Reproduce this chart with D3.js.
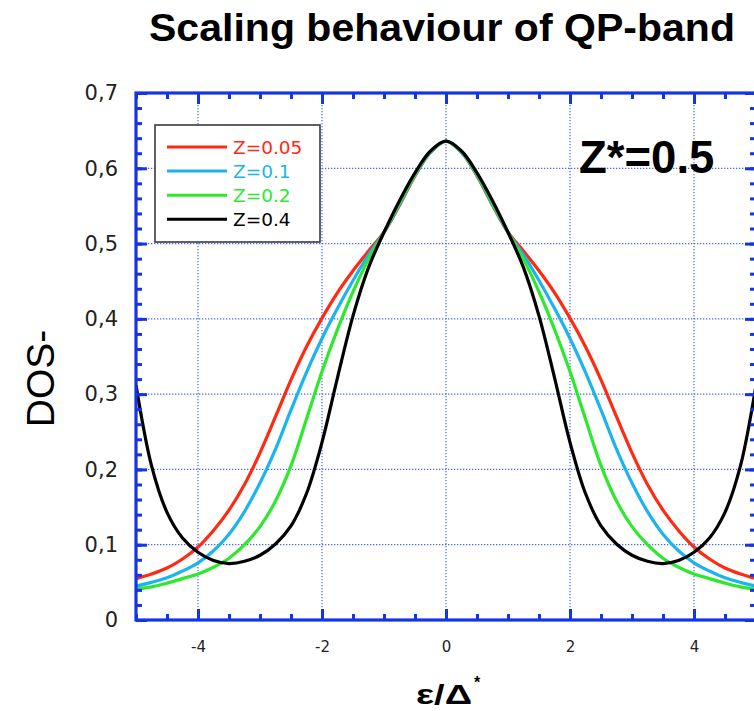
<!DOCTYPE html>
<html>
<head>
<meta charset="utf-8">
<script src="https://cdn.jsdelivr.net/npm/d3@7"></script>
<style>
  html, body { margin: 0; padding: 0; background: #fff; }
  svg { display: block; }
</style>
</head>
<body>
<svg id="chart" width="754" height="711"></svg>
<script>
// Energy grid (in units of Δ*)
const energies = [-5, -4.75, -4.5, -4.25, -4, -3.75, -3.5, -3.25, -3, -2.75, -2.5, -2.25, -2, -1.75, -1.5, -1.25, -1, -0.75, -0.5, -0.25,
                  0, 0.25, 0.5, 0.75, 1, 1.25, 1.5, 1.75, 2, 2.25, 2.5, 2.75, 3, 3.25, 3.5, 3.75, 4, 4.25, 4.5, 4.75, 5];

// DOS- for each Z
const dosZ005 = [0.055, 0.061, 0.069, 0.081, 0.097, 0.119, 0.146, 0.180, 0.222, 0.270, 0.319, 0.363, 0.401, 0.435, 0.464, 0.490, 0.515, 0.551, 0.590, 0.621,
                 0.636, 0.621, 0.590, 0.551, 0.515, 0.490, 0.464, 0.435, 0.401, 0.363, 0.319, 0.270, 0.222, 0.180, 0.146, 0.119, 0.097, 0.081, 0.069, 0.061, 0.055];
const dosZ01  = [0.045, 0.050, 0.056, 0.065, 0.076, 0.092, 0.114, 0.144, 0.182, 0.227, 0.279, 0.329, 0.374, 0.414, 0.451, 0.485, 0.515, 0.552, 0.591, 0.621,
                 0.636, 0.621, 0.591, 0.552, 0.515, 0.485, 0.451, 0.414, 0.374, 0.329, 0.279, 0.227, 0.182, 0.144, 0.114, 0.092, 0.076, 0.065, 0.056, 0.050, 0.045];
const dosZ02  = [0.041, 0.044, 0.049, 0.055, 0.061, 0.070, 0.082, 0.100, 0.124, 0.158, 0.205, 0.267, 0.330, 0.386, 0.436, 0.479, 0.515, 0.554, 0.592, 0.622,
                 0.636, 0.622, 0.592, 0.554, 0.515, 0.479, 0.436, 0.386, 0.330, 0.267, 0.205, 0.158, 0.124, 0.100, 0.082, 0.070, 0.061, 0.055, 0.049, 0.044, 0.041];
const dosZ04  = [0.312, 0.205, 0.143, 0.109, 0.090, 0.079, 0.075, 0.078, 0.086, 0.101, 0.125, 0.168, 0.236, 0.322, 0.404, 0.468, 0.515, 0.557, 0.594, 0.623,
                 0.636, 0.623, 0.594, 0.557, 0.515, 0.468, 0.404, 0.322, 0.236, 0.168, 0.125, 0.101, 0.086, 0.078, 0.075, 0.079, 0.090, 0.109, 0.143, 0.205, 0.312];

const seriesNames  = ["Z=0.05", "Z=0.1", "Z=0.2", "Z=0.4"];
const seriesColors = ["#ff2a12", "#1cb4ec", "#2ee82e", "#000000"];
const seriesValues = [dosZ005, dosZ01, dosZ02, dosZ04];

const xTickValues = [-4, -2, 0, 2, 4];
const xTickLabels = ["-4", "-2", "0", "2", "4"];
const yTickValues = [0, 0.1, 0.2, 0.3, 0.4, 0.5, 0.6, 0.7];
const yTickLabels = ["0", "0,1", "0,2", "0,3", "0,4", "0,5", "0,6", "0,7"];

const titleText = "Scaling behaviour of QP-band";
const annotation = "Z*=0.5";

// ---- layout ----
const svg = d3.select("#chart");
const plot = { left: 136, right: 756, top: 93, bottom: 620 };
const x = d3.scaleLinear().domain([-5, 5]).range([plot.left, plot.right]);
const y = d3.scaleLinear().domain([0, 0.7]).range([plot.bottom, plot.top]);

const axisBlue = "#1534e4";
const gridBlue = "#4766f2";

svg.append("defs").append("clipPath").attr("id", "plotClip")
  .append("rect")
  .attr("x", plot.left).attr("y", plot.top)
  .attr("width", plot.right - plot.left).attr("height", plot.bottom - plot.top);

// dotted grid
const grid = svg.append("g").attr("stroke", gridBlue).attr("stroke-width", 1.2)
  .attr("stroke-dasharray", "1.3,1.7");
grid.selectAll("line.gx").data(xTickValues).join("line").attr("class", "gx")
  .attr("x1", d => x(d)).attr("x2", d => x(d))
  .attr("y1", plot.top).attr("y2", plot.bottom);
grid.selectAll("line.gy").data(yTickValues.filter(v => v > 0 && v < 0.7)).join("line").attr("class", "gy")
  .attr("y1", d => y(d)).attr("y2", d => y(d))
  .attr("x1", plot.left).attr("x2", plot.right);

// curves
const line = d3.line()
  .x((d, i) => x(energies[i]))
  .y(d => y(d))
  .curve(d3.curveCatmullRom.alpha(0.5));

svg.append("g").attr("clip-path", "url(#plotClip)")
  .selectAll("path").data(seriesValues).join("path")
  .attr("d", d => line(d))
  .attr("fill", "none")
  .attr("stroke", (d, i) => seriesColors[i])
  .attr("stroke-width", 3.2)
  .attr("stroke-linejoin", "round");

// axes: inward ticks on all four sides
function styleAxis(g) {
  g.select(".domain").remove();
  g.selectAll(".tick line").attr("stroke", axisBlue).attr("stroke-width", 3);
}
const majorLen = 11, minorLen = 6;

svg.append("g").attr("transform", `translate(0,${plot.bottom})`)
  .call(d3.axisBottom(x).ticks(20).tickSize(-minorLen).tickFormat(""))
  .call(styleAxis);
svg.append("g").attr("transform", `translate(0,${plot.bottom})`)
  .call(d3.axisBottom(x).tickValues(xTickValues).tickSize(-majorLen).tickPadding(21)
        .tickFormat((d, i) => xTickLabels[i]))
  .call(styleAxis)
  .call(g => g.selectAll("text").attr("font-family", "DejaVu Sans").attr("font-size", 15).attr("fill", "#222"));

svg.append("g").attr("transform", `translate(0,${plot.top})`)
  .call(d3.axisTop(x).ticks(20).tickSize(-minorLen).tickFormat(""))
  .call(styleAxis);
svg.append("g").attr("transform", `translate(0,${plot.top})`)
  .call(d3.axisTop(x).tickValues(xTickValues).tickSize(-majorLen).tickFormat(""))
  .call(styleAxis);

svg.append("g").attr("transform", `translate(${plot.left},0)`)
  .call(d3.axisLeft(y).ticks(35).tickSize(-minorLen).tickFormat(""))
  .call(styleAxis);
svg.append("g").attr("transform", `translate(${plot.left},0)`)
  .call(d3.axisLeft(y).tickValues(yTickValues).tickSize(-majorLen).tickPadding(18)
        .tickFormat((d, i) => yTickLabels[i]))
  .call(styleAxis)
  .call(g => g.selectAll("text").attr("font-family", "DejaVu Sans").attr("font-size", 21).attr("fill", "#222"));

svg.append("g").attr("transform", `translate(${plot.right},0)`)
  .call(d3.axisRight(y).ticks(35).tickSize(-minorLen).tickFormat(""))
  .call(styleAxis);
svg.append("g").attr("transform", `translate(${plot.right},0)`)
  .call(d3.axisRight(y).tickValues(yTickValues).tickSize(-majorLen).tickFormat(""))
  .call(styleAxis);

// frame
svg.append("rect")
  .attr("x", plot.left).attr("y", plot.top)
  .attr("width", plot.right - plot.left).attr("height", plot.bottom - plot.top)
  .attr("fill", "none").attr("stroke", axisBlue).attr("stroke-width", 3.2);

// legend
const legend = svg.append("g").attr("transform", "translate(155,125)");
legend.append("rect").attr("width", 165).attr("height", 117)
  .attr("fill", "#fff").attr("stroke", "#3a3a3a").attr("stroke-width", 1.6);
const rows = legend.selectAll("g.row").data(seriesNames).join("g").attr("class", "row")
  .attr("transform", (d, i) => `translate(0,${22 + i * 24.1})`);
rows.append("line").attr("x1", 12).attr("x2", 72).attr("y1", 0).attr("y2", 0)
  .attr("stroke", (d, i) => seriesColors[i]).attr("stroke-width", 3);
rows.append("text").attr("x", 78).attr("y", 6.5)
  .attr("font-family", "DejaVu Sans").attr("font-size", 18.5)
  .attr("fill", (d, i) => seriesColors[i])
  .text(d => d);

// annotation
svg.append("text").attr("x", 579).attr("y", 173)
  .attr("font-family", "Liberation Sans, Arial, sans-serif").attr("font-weight", "bold")
  .attr("font-size", 45.5).attr("fill", "#000")
  .text(annotation);

// title
svg.append("text").attr("x", 149).attr("y", 41)
  .attr("font-family", "Liberation Sans, Arial, sans-serif").attr("font-weight", "bold")
  .attr("font-size", 39).attr("textLength", 586).attr("lengthAdjust", "spacingAndGlyphs")
  .attr("fill", "#000")
  .text(titleText);

// axis titles
svg.append("text").attr("transform", "translate(54,378.5) rotate(-90)")
  .attr("text-anchor", "middle")
  .attr("font-family", "Liberation Sans, Arial, sans-serif").attr("font-size", 39)
  .attr("fill", "#000")
  .text("DOS-");

const xTitle = svg.append("text").attr("y", 704)
  .attr("font-family", "Liberation Sans, Arial, sans-serif").attr("font-weight", "bold")
  .attr("font-size", 28).attr("fill", "#000");
xTitle.append("tspan").attr("x", 416).attr("textLength", 56).attr("lengthAdjust", "spacingAndGlyphs").text("ε/Δ");
xTitle.append("tspan").attr("x", 474).attr("y", 688).attr("font-size", 16).text("*");
</script>
</body>
</html>
